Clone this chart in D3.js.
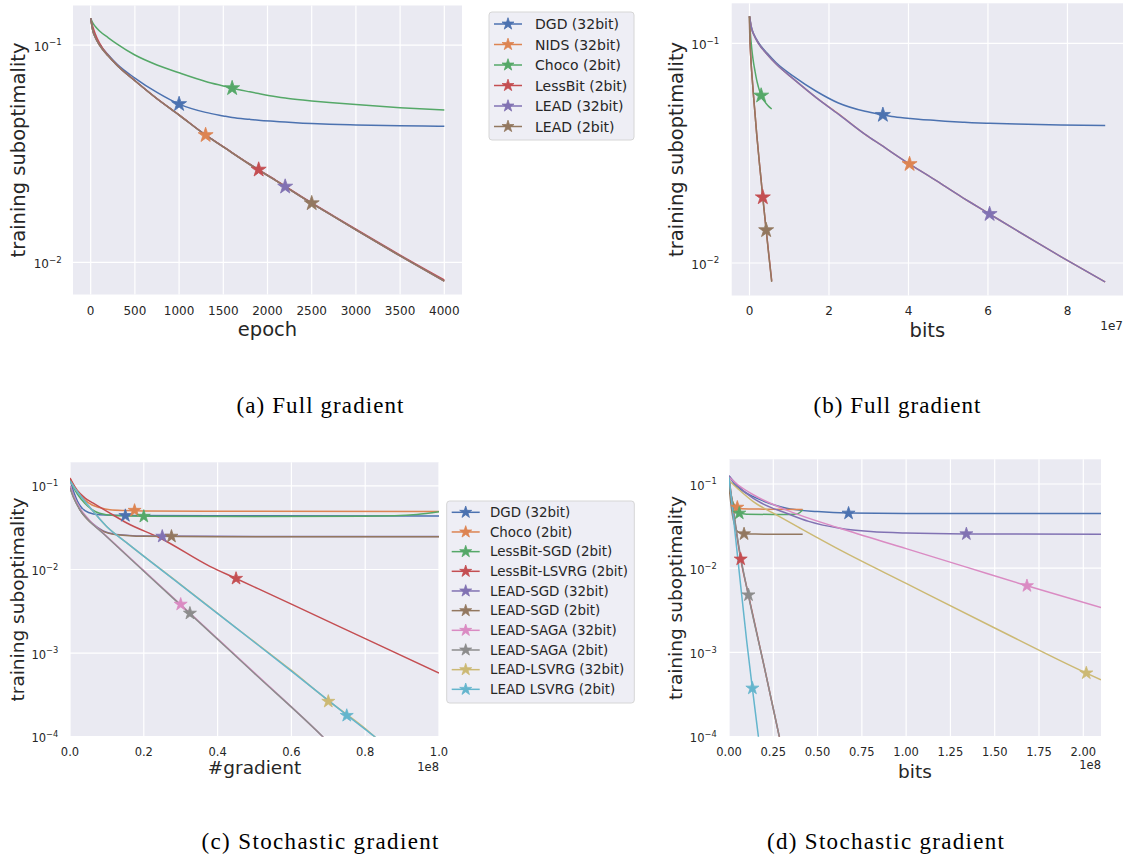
<!DOCTYPE html>
<html>
<head>
<meta charset="utf-8">
<script src="https://cdn.jsdelivr.net/npm/d3@7"></script>
<style>
  body { margin: 0; background: #fff; }
  text { font-family: "DejaVu Sans", sans-serif; fill: #262626; }
  .cap { font-family: "Liberation Serif", serif; fill: #000; }
</style>
</head>
<body>
<svg id="fig" width="1129" height="862"></svg>
<script>
// ---------- data ----------
// full gradient runs, y = training suboptimality per epoch
const epochs = [0, 25, 50, 100, 200, 300, 500, 750, 1000, 1300, 1500, 1600, 1800, 1900, 2100, 2200, 2400, 2500, 2700, 3000, 3500, 4000];
const dgdFull     = [0.1327, 0.117, 0.110, 0.101, 0.090, 0.0815, 0.0705, 0.0605, 0.0535, 0.0490, 0.0472, 0.0464, 0.0455, 0.0451, 0.0445, 0.0442, 0.0437, 0.0435, 0.0432, 0.0429, 0.0425, 0.0423];
const nidsFull    = [0.1327, 0.116, 0.109, 0.100, 0.089, 0.0805, 0.0685, 0.0566, 0.0477, 0.0385, 0.0340, 0.0319, 0.0282, 0.0266, 0.0237, 0.0223, 0.0198, 0.0187, 0.0167, 0.0141, 0.0107, 0.0082];
const chocoFull   = [0.1327, 0.126, 0.122, 0.116, 0.108, 0.101, 0.090, 0.081, 0.0745, 0.0680, 0.0648, 0.0633, 0.0609, 0.0598, 0.0578, 0.0570, 0.0558, 0.0553, 0.0544, 0.0532, 0.0515, 0.0502];
const lessbitFull = [0.1327, 0.121, 0.113, 0.102, 0.0895, 0.0808, 0.0687, 0.0567, 0.0477, 0.0386, 0.0341, 0.0320, 0.0283, 0.0267, 0.0238, 0.0224, 0.0199, 0.0188, 0.0168, 0.0142, 0.0108, 0.0083];
const lead32Full  = [0.1327, 0.116, 0.109, 0.100, 0.089, 0.0805, 0.0685, 0.0566, 0.0476, 0.0385, 0.0340, 0.0319, 0.0282, 0.0266, 0.0237, 0.0223, 0.0198, 0.0187, 0.0167, 0.0141, 0.0107, 0.0082];
const lead2Full   = [0.1327, 0.116, 0.109, 0.100, 0.089, 0.0805, 0.0685, 0.0566, 0.0476, 0.0385, 0.0340, 0.0319, 0.0282, 0.0266, 0.0237, 0.0223, 0.0198, 0.0187, 0.0167, 0.0141, 0.0107, 0.0082];
const fullNames   = ["DGD (32bit)", "NIDS (32bit)", "Choco (2bit)", "LessBit (2bit)", "LEAD (32bit)", "LEAD (2bit)"];
const fullSeries  = [dgdFull, nidsFull, chocoFull, lessbitFull, lead32Full, lead2Full];
const fullBits    = [32, 32, 2, 2, 32, 2];
const bitsPerEpoch = {32: 22375, 2: 1398};           // communicated bits per epoch
const fullMarkEpochA = [1000, 1300, 1600, 1900, 2200, 2500];
const fullMarkEpochB = [1500, 1800, 2100, 2400, 2700, 3000];

// stochastic runs: [x, y], x in units of 1e8
const stochNames = ["DGD (32bit)", "Choco (2bit)", "LessBit-SGD (2bit)", "LessBit-LSVRG (2bit)", "LEAD-SGD (32bit)",
  "LEAD-SGD (2bit)", "LEAD-SAGA (32bit)", "LEAD-SAGA (2bit)", "LEAD-LSVRG (32bit)", "LEAD LSVRG (2bit)"];
// (c) x = #gradient
const gradDGD   = [[0,0.12],[0.01,0.085],[0.02,0.066],[0.03,0.056],[0.05,0.048],[0.08,0.0452],[0.15,0.0442],[0.4,0.0439],[1.0,0.0437]];
const gradChoco = [[0,0.124],[0.01,0.1],[0.02,0.085],[0.04,0.068],[0.06,0.059],[0.08,0.055],[0.108,0.0518],[0.15,0.0507],[0.2,0.0502],[0.4,0.0498],[1.0,0.0494]];
const gradLbSGD = [[0,0.12],[0.01,0.095],[0.02,0.08],[0.04,0.062],[0.06,0.052],[0.08,0.047],[0.12,0.0442],[0.2,0.0433],[0.5,0.0431],[0.8,0.0432],[0.88,0.0438],[0.94,0.0455],[1.0,0.049]];
const gradLbLSV = [[0,0.124],[0.02,0.088],[0.04,0.072],[0.063,0.0622],[0.108,0.0473],[0.154,0.036],[0.244,0.0238],[0.379,0.0109],[0.45,0.0078],[0.6,0.00385],[0.8,0.00149],[1.0,0.000578]];
const gradSGD32 = [[0,0.1],[0.027,0.052],[0.063,0.035],[0.09,0.029],[0.126,0.0263],[0.2,0.0252],[0.4,0.0249],[1.0,0.0248]];
const gradSGD2  = [[0,0.095],[0.01,0.072],[0.027,0.0518],[0.063,0.0343],[0.09,0.0286],[0.126,0.0261],[0.2,0.025],[0.4,0.0247],[1.0,0.0246]];
const gradSAGA32 = [[0,0.1],[0.01,0.076],[0.027,0.054],[0.05,0.04],[0.09,0.0272],[0.2,0.0097],[0.3,0.0038],[0.5,0.00058],[0.685,0.0001],[0.72,0.00007]];
const gradSAGA2 = [[0,0.095],[0.01,0.072],[0.027,0.052],[0.05,0.039],[0.09,0.0269],[0.2,0.00953],[0.324,0.00299],[0.5,0.00057],[0.685,0.0001],[0.72,0.00007]];
const gradLSV32 = [[0,0.115],[0.02,0.085],[0.05,0.058],[0.1,0.0325],[0.154,0.0208],[0.3,0.0066],[0.45,0.00201],[0.6,0.00062],[0.7,0.00027],[0.8,0.000125],[0.85,0.00008]];
const gradLSV2  = [[0,0.115],[0.02,0.085],[0.05,0.058],[0.1,0.0325],[0.154,0.0208],[0.3,0.00655],[0.45,0.002],[0.6,0.00061],[0.752,0.000179],[0.85,0.0000826]];
const gradMarks = [[0.15,0.044],[0.175,0.0508],[0.2,0.0431],[0.45,0.0078],[0.25,0.0249],[0.275,0.0249],[0.3,0.00383],[0.325,0.00299],[0.7,0.000264],[0.75,0.000179]];
// (d) x = bits
const bitDGD   = [[0,0.125],[0.03,0.1],[0.07,0.085],[0.137,0.0707],[0.2,0.062],[0.325,0.0514],[0.5,0.047],[0.669,0.0452],[1.0,0.0447],[2.1,0.0445]];
const bitChoco = [[0,0.124],[0.005,0.09],[0.01,0.075],[0.02,0.062],[0.03,0.057],[0.047,0.0528],[0.07,0.0508],[0.2,0.0502],[0.416,0.0498]];
const bitLbSGD = [[0,0.12],[0.005,0.09],[0.01,0.078],[0.02,0.062],[0.035,0.051],[0.058,0.0455],[0.1,0.0438],[0.3,0.0434],[0.366,0.0436],[0.39,0.0445],[0.416,0.049]];
const bitLbLSV = [[0,0.12],[0.01,0.08],[0.025,0.048],[0.045,0.024],[0.066,0.0128],[0.109,0.0049],[0.2,0.00066],[0.284,0.0001],[0.3,0.00007]];
const bitSGD32 = [[0,0.125],[0.05,0.095],[0.137,0.0676],[0.2,0.057],[0.325,0.0449],[0.45,0.036],[0.626,0.0298],[0.8,0.0272],[1.0,0.0261],[1.34,0.0255],[2.1,0.0253]];
const bitSGD2  = [[0,0.095],[0.01,0.06],[0.02,0.042],[0.035,0.031],[0.05,0.027],[0.085,0.0256],[0.15,0.0254],[0.416,0.0253]];
const bitSAGA32 = [[0,0.12],[0.05,0.098],[0.137,0.0745],[0.325,0.049],[0.626,0.0298],[1.0,0.0171],[1.34,0.0103],[1.682,0.00618],[2.1,0.00342]];
const bitSAGA2 = [[0,0.12],[0.01,0.082],[0.025,0.05],[0.045,0.025],[0.066,0.0135],[0.109,0.00481],[0.2,0.00066],[0.284,0.0001],[0.3,0.00007]];
const bitLSV32 = [[0,0.11],[0.05,0.088],[0.137,0.0617],[0.25,0.045],[0.4,0.03],[0.626,0.0165],[1.0,0.0066],[1.5,0.00195],[2.017,0.000569],[2.1,0.000474]];
const bitLSV2  = [[0,0.12],[0.02,0.05],[0.05,0.0128],[0.1,0.00136],[0.132,0.000376],[0.166,0.0001],[0.18,0.00006]];
const bitMarks = [[0.675,0.0449],[0.047,0.0528],[0.058,0.0449],[0.066,0.0128],[1.34,0.0255],[0.085,0.0255],[1.682,0.00618],[0.11,0.00481],[2.017,0.000569],[0.132,0.000376]];

const palette = ["#4C72B0", "#DD8452", "#55A868", "#C44E52", "#8172B3", "#937860", "#DA8BC3", "#8C8C8C", "#CCB974", "#64B5CD"];

// ---------- drawing ----------
const svg = d3.select("#fig");
const sup = {"-1": "\u22121", "-2": "\u22122", "-3": "\u22123", "-4": "\u22124"};
let clipId = 0;

function star(w) {
  const r = w / 1.902;
  return d3.symbol(d3.symbolStar, r * r / 0.8908)();
}

function panel(p) {
  const x = d3.scaleLinear().domain(p.xDomain).range([p.left, p.right]);
  const y = d3.scaleLog().domain(p.yDomain).range([p.bottom, p.top]);
  const g = svg.append("g");
  g.append("rect").attr("x", p.left).attr("y", p.top)
    .attr("width", p.right - p.left).attr("height", p.bottom - p.top).attr("fill", "#EAEAF2");

  // grid
  g.selectAll(".gx").data(p.xTicks).enter().append("line")
    .attr("x1", d => x(d)).attr("x2", d => x(d)).attr("y1", p.top).attr("y2", p.bottom)
    .attr("stroke", "#fff").attr("stroke-width", 1.2);
  g.selectAll(".gy").data(p.yTicks).enter().append("line")
    .attr("y1", d => y(Math.pow(10, d))).attr("y2", d => y(Math.pow(10, d))).attr("x1", p.left).attr("x2", p.right)
    .attr("stroke", "#fff").attr("stroke-width", 1.2);

  // tick labels
  g.selectAll(".tx").data(p.xTicks).enter().append("text")
    .attr("x", d => x(d)).attr("y", p.tickY).attr("text-anchor", "middle")
    .style("font-size", p.tickFs + "px").text(p.xFmt);
  const ty = g.selectAll(".ty").data(p.yTicks).enter().append("text")
    .attr("x", p.yTickRight).attr("y", d => y(Math.pow(10, d)) + p.tickFs * 0.35 + 1.5)
    .attr("text-anchor", "end").style("font-size", p.tickFs + "px");
  ty.append("tspan").text("10");
  ty.append("tspan").attr("dy", -p.tickFs * 0.45).style("font-size", (p.tickFs * 0.72) + "px").text(d => sup[d]);
  if (p.offset) {
    g.append("text").attr("x", p.right).attr("y", p.offsetY).attr("text-anchor", "end")
      .style("font-size", p.tickFs + "px").text(p.offset);
  }

  // axis labels
  g.append("text").attr("x", (p.left + p.right) / 2).attr("y", p.xLabelY).attr("text-anchor", "middle")
    .style("font-size", p.labelFs + "px").text(p.xLabel);
  g.append("text").attr("transform", `translate(${p.yLabelX},${(p.top + p.bottom) / 2}) rotate(-90)`)
    .attr("text-anchor", "middle").style("font-size", p.labelFs + "px").text("training suboptimality");

  // lines
  const id = "clip" + (clipId++);
  svg.append("clipPath").attr("id", id).append("rect")
    .attr("x", p.left).attr("y", p.top).attr("width", p.right - p.left).attr("height", p.bottom - p.top);
  const lg = g.append("g").attr("clip-path", `url(#${id})`);
  const line = d3.line().x(d => x(d[0])).y(d => y(d[1])).curve(d3.curveMonotoneX);
  p.series.forEach((s, i) => {
    lg.append("path").attr("d", line(s)).attr("fill", "none")
      .attr("stroke", palette[i]).attr("stroke-width", 1.5);
  });
  p.marks.forEach((m, i) => {
    lg.append("path").attr("d", star(p.starW))
      .attr("transform", `translate(${x(m[0])},${y(m[1])})`)
      .attr("fill", palette[i]).attr("stroke", palette[i]).attr("stroke-width", 0.8);
  });
}

function legend(l) {
  const g = svg.append("g");
  g.append("rect").attr("x", l.x).attr("y", l.y).attr("width", l.w).attr("height", l.h).attr("rx", 3)
    .attr("fill", "#EEEEF5").attr("stroke", "#D6D6D6").attr("stroke-width", 1);
  l.names.forEach((n, i) => {
    const cy = l.y0 + i * l.step;
    g.append("line").attr("x1", l.hx).attr("x2", l.hx + 28).attr("y1", cy).attr("y2", cy)
      .attr("stroke", palette[i]).attr("stroke-width", 1.5);
    g.append("path").attr("d", star(12)).attr("transform", `translate(${l.hx + 14},${cy})`)
      .attr("fill", palette[i]).attr("stroke", palette[i]).attr("stroke-width", 0.8);
    g.append("text").attr("x", l.tx).attr("y", cy + l.fs * 0.36).style("font-size", l.fs + "px").text(n);
  });
}

// (a) full gradient vs epoch
const seriesA = fullSeries.map(s => s.map((v, k) => [epochs[k], v]));
panel({
  left: 73, right: 462, top: 5.5, bottom: 294.5,
  xDomain: [-200, 4200], yDomain: [Math.pow(10, -2.148), Math.pow(10, -0.818)],
  xTicks: d3.range(0, 4001, 500), xFmt: d => d, yTicks: [-2, -1],
  tickFs: 12, tickY: 315, yTickRight: 61.7,
  labelFs: 19.5, xLabel: "epoch", xLabelY: 336, yLabelX: 25,
  series: seriesA,
  marks: fullMarkEpochA.map((e, i) => [e, fullSeries[i][epochs.indexOf(e)]]),
  starW: 15
});

// (b) full gradient vs bits
const seriesB = fullSeries.map((s, i) => s.map((v, k) => [epochs[k] * bitsPerEpoch[fullBits[i]], v]));
panel({
  left: 731.7, right: 1123, top: 3.3, bottom: 295.5,
  xDomain: [-0.4475e7, 9.3975e7], yDomain: [Math.pow(10, -2.148), Math.pow(10, -0.818)],
  xTicks: [0, 2e7, 4e7, 6e7, 8e7], xFmt: d => d / 1e7, yTicks: [-2, -1],
  tickFs: 12, tickY: 315, yTickRight: 719.3, offset: "1e7", offsetY: 329.5,
  labelFs: 19.5, xLabel: "bits", xLabelY: 337, yLabelX: 683,
  series: seriesB,
  marks: fullMarkEpochB.map((e, i) => [e * bitsPerEpoch[fullBits[i]], fullSeries[i][epochs.indexOf(e)]]),
  starW: 15
});

// (c) stochastic vs #gradient
panel({
  left: 70, right: 439, top: 462.3, bottom: 736.7,
  xDomain: [0, 1], yDomain: [1e-4, Math.pow(10, -0.718)],
  xTicks: [0, 0.2, 0.4, 0.6, 0.8, 1.0], xFmt: d => d.toFixed(1), yTicks: [-4, -3, -2, -1],
  tickFs: 11.5, tickY: 755.7, yTickRight: 58.3, offset: "1e8", offsetY: 771,
  labelFs: 18.5, xLabel: "#gradient", xLabelY: 774, yLabelX: 24,
  series: [gradDGD, gradChoco, gradLbSGD, gradLbLSV, gradSGD32, gradSGD2, gradSAGA32, gradSAGA2, gradLSV32, gradLSV2],
  marks: gradMarks, starW: 13
});

// (d) stochastic vs bits
panel({
  left: 729, right: 1101, top: 459.3, bottom: 736.7,
  xDomain: [0, 2.1], yDomain: [1e-4, Math.pow(10, -0.707)],
  xTicks: d3.range(0, 2.01, 0.25), xFmt: d => d.toFixed(2), yTicks: [-4, -3, -2, -1],
  tickFs: 11.5, tickY: 755.7, yTickRight: 716.7, offset: "1e8", offsetY: 769,
  labelFs: 18.5, xLabel: "bits", xLabelY: 778, yLabelX: 682,
  series: [bitDGD, bitChoco, bitLbSGD, bitLbLSV, bitSGD32, bitSGD2, bitSAGA32, bitSAGA2, bitLSV32, bitLSV2],
  marks: bitMarks, starW: 13
});

legend({x: 489, y: 12, w: 145, h: 128, y0: 24, step: 20.5, hx: 494, tx: 535, fs: 14, names: fullNames});
legend({x: 446.7, y: 501, w: 187.6, h: 202, y0: 512.3, step: 19.67, hx: 451.7, tx: 490, fs: 13.4, names: stochNames});

// captions
const caps = [
  {t: "(a) Full gradient", x: 320, y: 413, w: 167},
  {t: "(b) Full gradient", x: 897, y: 413, w: 167},
  {t: "(c) Stochastic gradient", x: 320, y: 849, w: 237},
  {t: "(d) Stochastic gradient", x: 885.5, y: 849, w: 237}
];
svg.selectAll(".cap").data(caps).enter().append("text").attr("class", "cap")
  .attr("x", d => d.x).attr("y", d => d.y).attr("text-anchor", "middle")
  .attr("textLength", d => d.w).attr("lengthAdjust", "spacing")
  .style("font-size", "23px").text(d => d.t);
</script>
</body>
</html>
